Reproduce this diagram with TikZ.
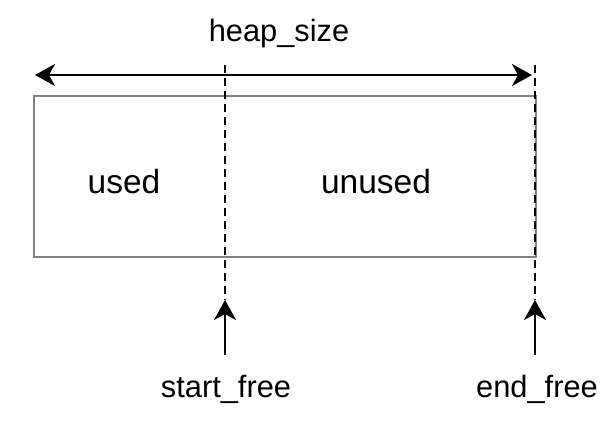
\documentclass[tikz,border=0pt]{standalone}
\usepackage{fontspec}
\setmainfont{Liberation Sans}
\usetikzlibrary{arrows.meta}
\begin{document}
\begin{tikzpicture}[x=1pt,y=-1pt,
  lbl/.style={font=\fontsize{30.8}{36}\selectfont, inner sep=0pt},
  biglbl/.style={font=\fontsize{33.5}{40}\selectfont, inner sep=0pt},
  tip/.style={line width=2.5pt},
  dashline/.style={line width=2pt, dash pattern=on 8pt off 5pt},
  box/.style={draw=black!50, line width=2pt}]
\useasboundingbox (0,0) rectangle (616,430);
\node[box, minimum width=502pt, minimum height=161pt, anchor=north west, inner sep=0pt] (heap) at (33,95) {};
\node[biglbl, anchor=base] (used) at (124,194) {used};
\node[biglbl, anchor=base] (unused) at (376,194) {unused};
\node[lbl, anchor=base] (hs) at (279,42) {heap\_size};
\node[lbl, anchor=base] (sf) at (226,397) {start\_free};
\node[lbl, anchor=base] (ef) at (537,397) {end\_free};
\coordinate (l) at (35,75);
\coordinate (r) at (532,75);
\coordinate (d1t) at (225,65);
\coordinate (d1b) at (225,300);
\coordinate (d2t) at (535,65);
\coordinate (d2b) at (535,300);
\coordinate (a1) at (225,355);
\coordinate (a2) at (535,355);
\draw[dashline] (d1t) -- (d1b);
\draw[dashline] (d2t) -- (d2b);
\draw[tip, {Stealth[length=20pt,width=22pt,inset=6pt]}-{Stealth[length=20pt,width=22pt,inset=6pt]}] (l) -- (r);
\draw[tip, -{Stealth[length=20pt,width=22pt,inset=6pt]}] (a1) -- (d1b);
\draw[tip, -{Stealth[length=20pt,width=22pt,inset=6pt]}] (a2) -- (d2b);
\end{tikzpicture}
\end{document}
